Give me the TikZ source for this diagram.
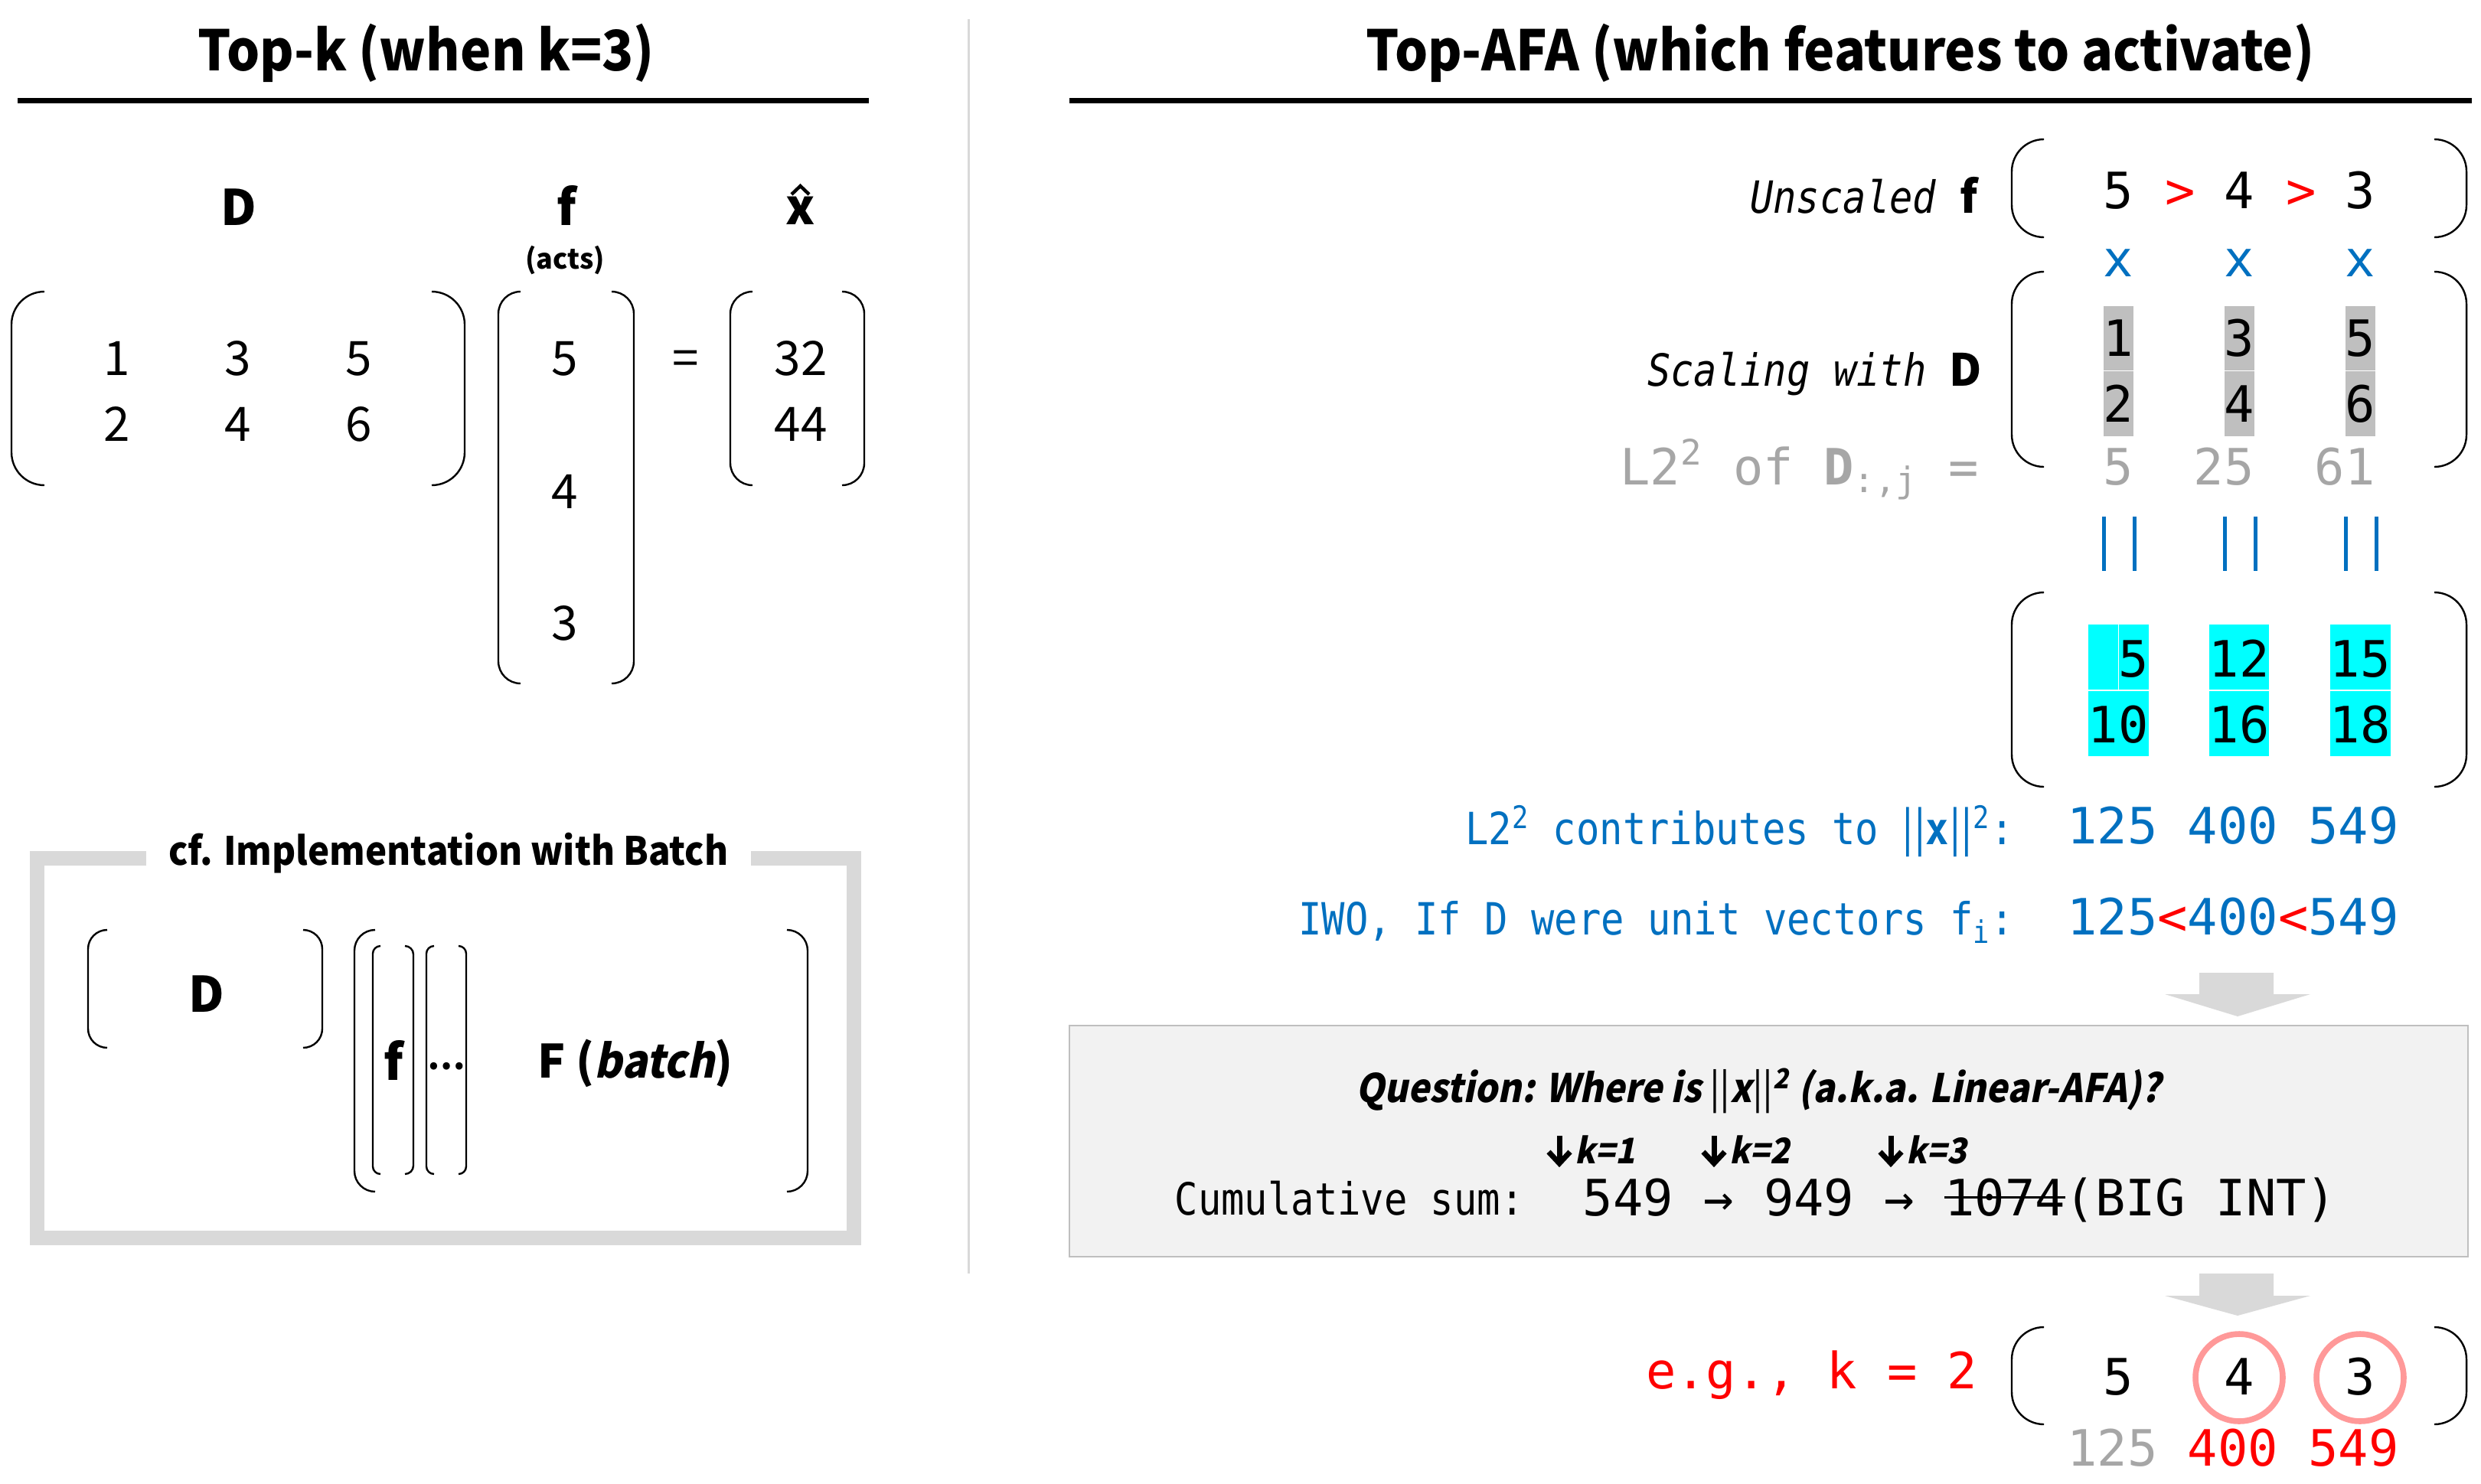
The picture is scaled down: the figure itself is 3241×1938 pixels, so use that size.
\documentclass[tikz,border=0pt]{standalone}
\usepackage{fontspec}
\setmainfont{Noto Sans CJK KR}
\newfontfamily\medf{Noto Sans CJK KR}[FakeStretch=0.93]
\newfontfamily\qf{Noto Sans CJK KR}[FakeSlant=0.2, FakeStretch=0.92]
\newfontfamily\mA{DejaVu Sans Mono}
\newfontfamily\mB{DejaVu Sans Mono}[FakeStretch=0.87]
\definecolor{myblue}{RGB}{0,112,192}
\definecolor{txtgray}{RGB}{166,166,166}
\definecolor{boxgray}{RGB}{191,191,191}
\definecolor{lightg}{RGB}{217,217,217}
\definecolor{qfill}{RGB}{242,242,242}
\definecolor{salmon}{RGB}{255,153,153}
\definecolor{cyanb}{RGB}{0,255,255}
\newcommand\strk[1]{\setbox0\hbox{#1}\rlap{\rule[0.33em]{\wd0}{0.06em}}\box0}
\newcommand\dar[1]{\draw[darr] (#1,1484) -- (#1,1519); \draw[darr] (#1-14,1505) -- (#1,1520) -- (#1+14,1505);}
\newcommand\lbr[4]{\draw[brk] (#1+#4,#2) arc[start angle=270,end angle=180,radius=#4] -- (#1,#3-#4) arc[start angle=180,end angle=90,radius=#4];}
\newcommand\rbr[4]{\draw[brk] (#1-#4,#2) arc[start angle=270,end angle=360,radius=#4] -- (#1,#3-#4) arc[start angle=0,end angle=90,radius=#4];}
\tikzset{
 tx/.style={inner sep=0pt, anchor=base},
 ttl/.style={tx, font=\medf\bfseries\fontsize{18.25pt}{22pt}\selectfont},
 btitle/.style={tx, font=\medf\bfseries\fontsize{12.75pt}{15pt}\selectfont},
 lbl/.style={tx, font=\bfseries\fontsize{16pt}{19pt}\selectfont},
 acts/.style={tx, font=\bfseries\fontsize{9pt}{11pt}\selectfont},
 num/.style={tx, font=\fontsize{15.5pt}{18pt}\selectfont},
 mbig/.style={tx, font=\mA\fontsize{16.35pt}{19pt}\selectfont},
 mlab/.style={tx, font=\mB\fontsize{14.5pt}{17pt}\selectfont},
 qtext/.style={tx, font=\qf\bfseries\fontsize{12.85pt}{16pt}\selectfont},
 klab/.style={tx, anchor=base west, font=\qf\bfseries\fontsize{11.5pt}{14pt}\selectfont},
 darr/.style={line width=1.75pt, black, line join=miter},
 brk/.style={line width=0.6pt, black},
 rulel/.style={line width=1.75pt, black},
 divl/.style={line width=0.75pt, lightg},
 frame/.style={line width=4.75pt, lightg, line join=miter},
 hatl/.style={line width=1.1pt, black},
 eqbar/.style={line width=1.25pt, myblue},
 garrow/.style={fill=lightg},
 qbox/.style={fill=qfill, draw=boxgray, line width=0.5pt},
 circ/.style={draw=salmon, line width=1.9pt},
 sep/.style={white, line width=0.4pt},
}
\begin{document}
\begin{tikzpicture}[x=0.25pt,y=-0.25pt]
\path[use as bounding box, fill=white] (0,0) rectangle (3241,1938);

% ---------------- left panel ----------------
\node[ttl] (t1) at (557,92) {Top-k (when k=3)};
\draw[rulel] (23,131) -- (1135,131);
\draw[divl] (1265,25) -- (1265,1664);

\node[lbl] (lD) at (312,294) {D};
\node[lbl] (lf) at (740,294) {f};
\node[acts] (lacts) at (738,351) {(acts)};
\node[lbl] (lx) at (1046,293) {x};
\draw[hatl] (1034,254) -- (1045.5,243) -- (1057,254);

\lbr{15}{381}{634}{43}
\rbr{607}{381}{634}{43}
\node[num] (d11) at (153,490) {1};
\node[num] (d12) at (311,490) {3};
\node[num] (d13) at (469,490) {5};
\node[num] (d21) at (153,576) {2};
\node[num] (d22) at (311,576) {4};
\node[num] (d23) at (469,576) {6};

\lbr{651}{381}{893}{29}
\rbr{828}{381}{893}{29}
\node[num] (f1) at (738,490) {5};
\node[num] (f2) at (738,664) {4};
\node[num] (f3) at (738,836) {3};

\node[num] (eq) at (896,490) {=};

\lbr{954}{381}{634}{29}
\rbr{1129}{381}{634}{29}
\node[num] (x1) at (1046,490) {32};
\node[num] (x2) at (1046,576) {44};

% batch box
\draw[frame] (191,1121) -- (48,1121) -- (48,1617) -- (1115,1617) -- (1115,1121) -- (981,1121);
\node[btitle] (bt) at (586,1130) {cf. Implementation with Batch};
\lbr{115}{1215}{1369}{25}
\rbr{421}{1215}{1369}{25}
\node[lbl] (bD) at (270,1322) {D};
\lbr{463}{1215}{1557}{27}
\rbr{1055}{1215}{1557}{27}
\lbr{487}{1236}{1534}{10}
\rbr{540}{1236}{1534}{11}
\node[lbl] (bf) at (514,1411) {f};
\lbr{557}{1236}{1534}{10}
\rbr{609}{1236}{1534}{10}
\node[tx, font=\bfseries\fontsize{11pt}{13pt}\selectfont] (bdots) at (583,1397) {\ldots};
\node[tx, font=\bfseries\fontsize{15pt}{18pt}\selectfont] (bF) at (830,1408) {F ({\qf\bfseries batch})};

% ---------------- right panel ----------------
\node[ttl] (t2) at (2404,92) {Top-AFA (which features to activate)};
\draw[rulel] (1397,131) -- (3229,131);

% unscaled f
\lbr{2628}{182}{310}{42}
\rbr{3222}{182}{310}{42}
\node[mlab, anchor=base east] (uf) at (2584,278) {\textit{Unscaled} {\rmfamily\bfseries f}};
\node[mbig] (u1) at (2767,272) {5};
\node[mbig, red] (g1) at (2848,272) {>};
\node[mbig] (u2) at (2925,272) {4};
\node[mbig, red] (g2) at (3006,272) {>};
\node[mbig] (u3) at (3083,272) {3};
\node[mbig, myblue] (m1) at (2767,361) {x};
\node[mbig, myblue] (m2) at (2925,361) {x};
\node[mbig, myblue] (m3) at (3083,361) {x};

% scaling with D
\lbr{2628}{355}{610}{42}
\rbr{3222}{355}{610}{42}
\fill[boxgray] (2748,400) rectangle (2787,570);
\fill[boxgray] (2906,400) rectangle (2945,570);
\fill[boxgray] (3064,400) rectangle (3103,570);
\draw[sep] (2748,484.5) -- (2787,484.5);
\draw[sep] (2906,484.5) -- (2945,484.5);
\draw[sep] (3064,484.5) -- (3103,484.5);
\node[mbig] (s11) at (2767,465) {1};
\node[mbig] (s12) at (2925,465) {3};
\node[mbig] (s13) at (3083,465) {5};
\node[mbig] (s21) at (2767,551) {2};
\node[mbig] (s22) at (2925,551) {4};
\node[mbig] (s23) at (3083,551) {6};
\node[mlab, anchor=base east] (sw) at (2590,504) {\textit{Scaling with} {\rmfamily\bfseries D}};
\node[mbig, txtgray, anchor=base east] (l2) at (2586,633) {L2\textsuperscript{2} of \textbf{D}\textsubscript{:,j} =};
\node[mbig, txtgray] (n1) at (2767,633) {5};
\node[mbig, txtgray] (n2) at (2905,633) {25};
\node[mbig, txtgray] (n3) at (3063,633) {61};

\draw[eqbar] (2748,675) -- (2748,746);
\draw[eqbar] (2788,675) -- (2788,746);
\draw[eqbar] (2906,675) -- (2906,746);
\draw[eqbar] (2946,675) -- (2946,746);
\draw[eqbar] (3064,675) -- (3064,746);
\draw[eqbar] (3104,675) -- (3104,746);

% result
\lbr{2628}{774}{1028}{42}
\rbr{3222}{774}{1028}{42}
\fill[cyanb] (2728,816) rectangle (2807,988);
\fill[cyanb] (2886,816) rectangle (2964,988);
\fill[cyanb] (3044,816) rectangle (3123,988);
\draw[sep] (2728,902) -- (2807,902);
\draw[sep] (2886,902) -- (2964,902);
\draw[sep] (3044,902) -- (3123,902);
\draw[sep] (2767.5,816) -- (2767.5,902);
\node[mbig] (r11) at (2787,884) {5};
\node[mbig] (r12) at (2925,884) {12};
\node[mbig] (r13) at (3083,884) {15};
\node[mbig] (r21) at (2767,970) {10};
\node[mbig] (r22) at (2925,970) {16};
\node[mbig] (r23) at (3083,970) {18};

% blue lines
\node[mlab, myblue, anchor=base east] (bl1) at (2632,1103) {L2\textsuperscript{2} contributes to {\rmfamily||}\textbf{x}{\rmfamily||}\textsuperscript{2}:};
\node[mbig, myblue] (bv1) at (2917,1102) {125 400 549};
\node[mlab, myblue, anchor=base east] (bl2) at (2632,1221) {IWO, If D were unit vectors f\textsubscript{i}:};
\node[mbig, myblue] (bv2) at (2917,1221) {125\textcolor{red}{<}400\textcolor{red}{<}549};

% arrow 1
\fill[garrow] (2873,1271) -- (2970,1271) -- (2970,1299) -- (3018,1299) -- (2923,1328) -- (2828,1299) -- (2873,1299) -- cycle;

% question box
\draw[qbox] (1397,1340) rectangle (3224,1642);
\node[qtext] (q) at (2297,1440) {Question: Where is {\rmfamily\mdseries||}x{\rmfamily\mdseries||}\textsuperscript{2} (a.k.a. Linear-AFA)?};
\dar{2037}
\node[klab] (k1) at (2057,1520) {k=1};
\dar{2239}
\node[klab] (k2) at (2259,1520) {k=2};
\dar{2470}
\node[klab] (k3) at (2490,1520) {k=3};
\node[mlab, anchor=base west] (cs) at (1534,1587) {Cumulative sum:};
\node[mbig] (cv) at (2560,1588) {549 → 949 → \strk{1074}(BIG INT)};

% arrow 2
\fill[garrow] (2873,1664) -- (2970,1664) -- (2970,1693) -- (3018,1693) -- (2923,1719) -- (2828,1693) -- (2873,1693) -- cycle;

% e.g. k = 2
\node[mbig, red, anchor=base east] (eg) at (2584,1814) {e.g., k = 2};
\lbr{2628}{1734}{1861}{42}
\rbr{3222}{1734}{1861}{42}
\draw[circ] (2925,1800) circle[radius=57];
\draw[circ] (3083,1800) circle[radius=57];
\node[mbig] (e1) at (2767,1822) {5};
\node[mbig] (e2) at (2925,1822) {4};
\node[mbig] (e3) at (3083,1822) {3};
\node[mbig, red] (ev) at (2917,1915) {\textcolor{txtgray}{125} 400 549};
\end{tikzpicture}
\end{document}
